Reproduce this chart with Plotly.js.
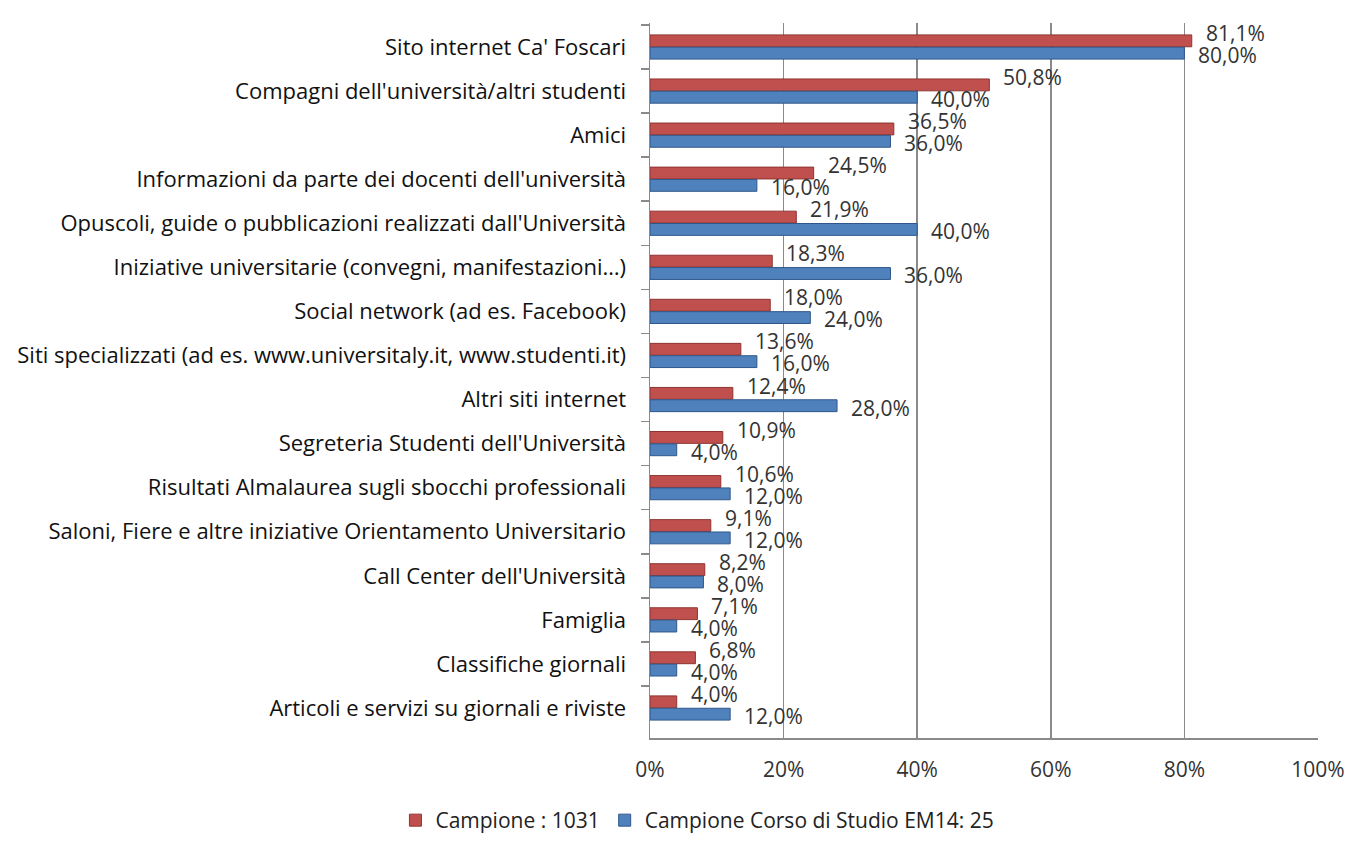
<!DOCTYPE html>
<html><head><meta charset="utf-8">
<script src="https://cdn.plot.ly/plotly-3.0.1.min.js"></script>
<style>html,body{margin:0;padding:0;background:#fff}#chart{width:1349px;height:841px}</style>
</head><body><div id="chart"></div>
<script>
const categories = [
  "Sito internet Ca' Foscari",
  "Compagni dell'università/altri studenti",
  "Amici",
  "Informazioni da parte dei docenti dell'università",
  "Opuscoli, guide o pubblicazioni realizzati dall'Università",
  "Iniziative universitarie (convegni, manifestazioni…)",
  "Social network (ad es. Facebook)",
  "Siti specializzati (ad es. www.universitaly.it, www.studenti.it)",
  "Altri siti internet",
  "Segreteria Studenti dell'Università",
  "Risultati Almalaurea sugli sbocchi professionali",
  "Saloni, Fiere e altre iniziative Orientamento Universitario",
  "Call Center dell'Università",
  "Famiglia",
  "Classifiche giornali",
  "Articoli e servizi su giornali e riviste"
];
const campione = [81.1, 50.8, 36.5, 24.5, 21.9, 18.3, 18.0, 13.6, 12.4, 10.9, 10.6, 9.1, 8.2, 7.1, 6.8, 4.0];
const corso = [80.0, 40.0, 36.0, 16.0, 40.0, 36.0, 24.0, 16.0, 28.0, 4.0, 12.0, 12.0, 8.0, 4.0, 4.0, 12.0];
const seriesNames = ["Campione : 1031", "Campione Corso di Studio EM14: 25"];
const xTicks = [0, 20, 40, 60, 80, 100];

const FONT = "'Open Sans', Lato, sans-serif";
const fmt = v => v.toFixed(1).replace('.', ',') + '%';

const traces = [
  {type:'bar', orientation:'h', name:seriesNames[0], y:categories, x:campione,
   marker:{color:'#C0504D', line:{color:'#8E3431', width:1}}, hoverinfo:'x+y'},
  {type:'bar', orientation:'h', name:seriesNames[1], y:categories, x:corso,
   marker:{color:'#4F81BD', line:{color:'#30578A', width:1}}, hoverinfo:'x+y'}
];

const annotations = [];
categories.forEach((c, i) => {
  annotations.push({x:campione[i], y:c, xref:'x', yref:'y', text:fmt(campione[i]),
    showarrow:false, xanchor:'left', yanchor:'middle', xshift:12, yshift:14,
    font:{family:FONT, size:21, color:'#333'}});
  annotations.push({x:corso[i], y:c, xref:'x', yref:'y', text:fmt(corso[i]),
    showarrow:false, xanchor:'left', yanchor:'middle', xshift:12, yshift:-8,
    font:{family:FONT, size:21, color:'#333'}});
});

const layout = {
  width:1349, height:841,
  margin:{l:650, r:31, t:23, b:103},
  paper_bgcolor:'#fff', plot_bgcolor:'#fff',
  barmode:'group', bargap:0.44, bargroupgap:0.04,
  showlegend:true,
  legend:{orientation:'h', xref:'container', yref:'container', x:0.517, y:0.0, xanchor:'center', yanchor:'bottom',
    font:{family:FONT, size:21, color:'#222'}, traceorder:'normal', itemwidth:30, tracegroupgap:0},
  xaxis:{range:[0,100], tickvals:xTicks, ticktext:xTicks.map(v=>v+'%'),
    showgrid:true, gridcolor:'#8a8a8a', gridwidth:1.5, zeroline:false,
    showline:true, linecolor:'#8a8a8a', linewidth:1.5, ticks:'', ticklabelstandoff:12,
    tickfont:{family:FONT, size:21, color:'#333'}, fixedrange:true},
  yaxis:{type:'category', autorange:'reversed', showgrid:false, zeroline:false,
    showline:true, linecolor:'#8a8a8a', linewidth:1.5, ticks:'outside', tickson:'boundaries',
    ticklen:8, tickcolor:'#8a8a8a', tickwidth:1.5, ticklabelstandoff:18,
    tickfont:{family:FONT, size:22, color:'#111'}, fixedrange:true},
  annotations:annotations
};

Plotly.newPlot('chart', traces, layout, {displayModeBar:false, staticPlot:true});
</script></body></html>
